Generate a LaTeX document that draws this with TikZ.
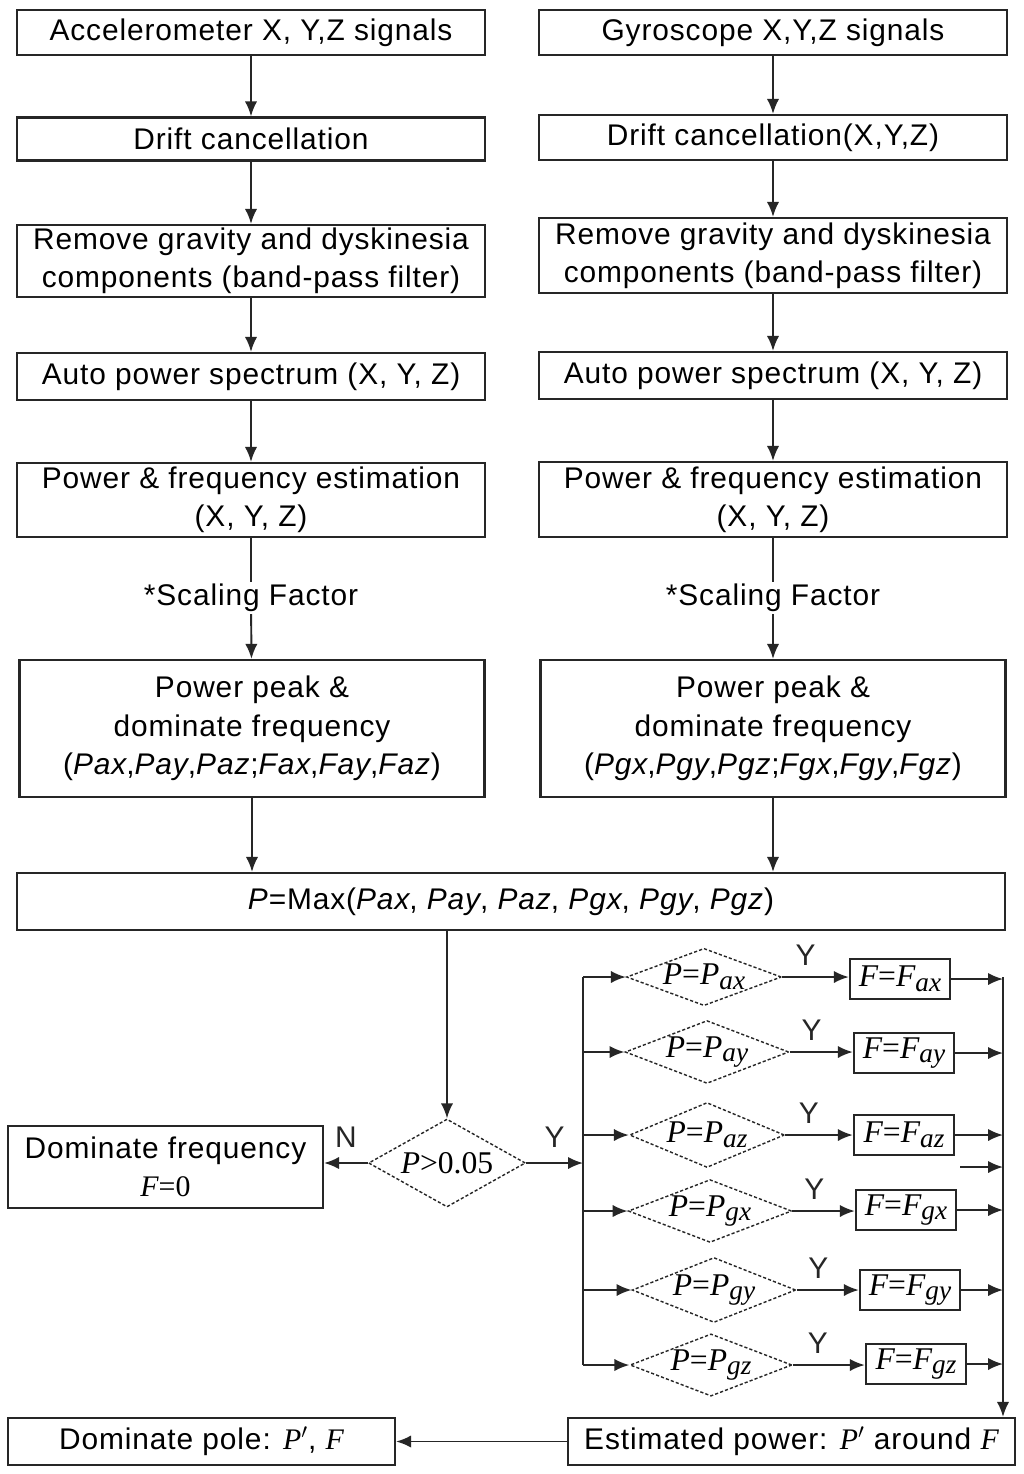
\documentclass[tikz,border=0pt]{standalone}
\usepackage{fontspec}
\setmainfont[LetterSpace=3]{Liberation Sans}
\newfontfamily\tms{Liberation Serif}
\usetikzlibrary{arrows.meta,shapes.geometric}
\newcommand\ti[1]{{\tms\itshape #1}}
\newcommand\tu[1]{{\tms #1}}
\newcommand\tsb[1]{\raisebox{-0.15em}{\tms\itshape\fontsize{15.5}{15.5}\selectfont #1}}
\tikzset{
  blk/.style={draw=black!85, line width=1.3pt, minimum width=9.36cm, align=center, inner sep=0pt, font=\fontsize{17}{21.5}\selectfont},
  dia/.style={diamond, shape aspect=2.6, draw=black!85, dash pattern=on 1.8pt off 1.2pt, line width=0.8pt, minimum width=3.1cm, minimum height=1.24cm, inner sep=0pt, font=\tms\itshape\fontsize{18}{18}\selectfont},
  fbx/.style={draw=black!85, line width=1.4pt, minimum width=2cm, minimum height=0.8cm, inner sep=0pt, font=\tms\itshape\fontsize{18}{18}\selectfont},
  lbl/.style={inner sep=1pt, font=\fontsize{17}{21.5}\selectfont},
  ln/.style={line width=1.1pt, black!85},
  arr/.style={ln, -{Latex[length=8.5pt,width=7pt]}}
}
\begin{document}
\begin{tikzpicture}[x=0.02cm, y=-0.02cm]
\useasboundingbox [fill=white] (0, 0) rectangle (1024, 1474);

\node [blk, minimum height=0.9cm] (acc) at (251, 32.5) {Accelerometer X, Y,Z signals};
\node [blk, minimum height=0.9cm] (gyr) at (773, 32.5) {Gyroscope X,Y,Z signals};
\node [blk, minimum height=0.86cm] (dca) at (251, 139) {Drift cancellation};
\node [blk, minimum height=0.9cm] (dcg) at (773, 137.5) {Drift cancellation(X,Y,Z)};
\node [blk, minimum height=1.44cm] (rma) at (251, 261) {Remove gravity and dyskinesia\\components (band-pass filter)};
\node [blk, minimum height=1.5cm] (rmg) at (773, 255.5) {Remove gravity and dyskinesia\\components (band-pass filter)};
\node [blk, minimum height=0.94cm] (apa) at (251, 376.5) {Auto power spectrum (X, Y, Z)};
\node [blk, minimum height=0.94cm] (apg) at (773, 375.5) {Auto power spectrum (X, Y, Z)};
\node [blk, minimum height=1.48cm] (pfa) at (251, 500) {Power \& frequency estimation\\(X, Y, Z)};
\node [blk, minimum height=1.5cm] (pfg) at (773, 499.5) {Power \& frequency estimation\\(X, Y, Z)};
\node [lbl] (sfa) at (251, 598) {*Scaling Factor};
\node [lbl] (sfg) at (773, 598) {*Scaling Factor};
\node [blk, minimum width=9.3cm, minimum height=2.74cm, font=\fontsize{17}{22}\selectfont] (ppa) at (252, 728.5) {Power peak \&\\dominate frequency\\(\textit{Pax},\textit{Pay},\textit{Paz};\textit{Fax},\textit{Fay},\textit{Faz})};
\node [blk, minimum width=9.3cm, minimum height=2.74cm, font=\fontsize{17}{22}\selectfont] (ppg) at (773, 728.5) {Power peak \&\\dominate frequency\\(\textit{Pgx},\textit{Pgy},\textit{Pgz};\textit{Fgx},\textit{Fgy},\textit{Fgz})};
\node [blk, minimum width=19.76cm, minimum height=1.14cm] (pmax) at (511, 901.5) {\textit{P}=Max(\textit{Pax}, \textit{Pay}, \textit{Paz}, \textit{Pgx}, \textit{Pgy}, \textit{Pgz})};

\node [dia, shape aspect=1.8, minimum width=3.14cm, minimum height=1.76cm] (chk) at (447, 1163) {P\upshape>0.05};
\node [blk, minimum width=6.3cm, minimum height=1.64cm] (fz) at (165.5, 1167) {Dominate frequency\\\ti{F}\tu{=0}};

\node [dia, minimum height=1.1cm] (dax) at (704, 977) {P{\upshape=}P\tsb{ax}};
\node [dia] (day) at (707, 1052) {P{\upshape=}P\tsb{ay}};
\node [dia, minimum height=1.3cm] (daz) at (707, 1135) {P{\upshape=}P\tsb{az}};
\node [dia] (dgx) at (710, 1211) {P{\upshape=}P\tsb{gx}};
\node [dia, minimum height=1.3cm] (dgy) at (714, 1290) {P{\upshape=}P\tsb{gy}};
\node [dia, minimum height=1.2cm] (dgz) at (711, 1365) {P{\upshape=}P\tsb{gz}};

\node [fbx] (fax) at (900, 979) {F{\upshape=}F\tsb{ax}};
\node [fbx] (fay) at (904, 1053) {F{\upshape=}F\tsb{ay}};
\node [fbx] (faz) at (904, 1135) {F{\upshape=}F\tsb{az}};
\node [fbx] (fgx) at (906, 1210) {F{\upshape=}F\tsb{gx}};
\node [fbx] (fgy) at (910, 1290) {F{\upshape=}F\tsb{gy}};
\node [fbx] (fgz) at (916, 1364) {F{\upshape=}F\tsb{gz}};

\node [blk, minimum width=8.94cm, minimum height=0.94cm] (est) at (791.5, 1441.5) {Estimated power: \ti{P}$'$ around \ti{F}};
\node [blk, minimum width=7.74cm, minimum height=0.94cm] (pole) at (201.5, 1441.5) {Dominate pole: \ti{P}$'$, \ti{F}};

\coordinate (blt) at (583, 977);
\coordinate (blb) at (583, 1365);
\coordinate (brt) at (1003, 977);
\coordinate (odd) at (960, 1167);

\draw [arr] (acc) -- (dca);
\draw [arr] (dca) -- (rma);
\draw [arr] (rma) -- (apa);
\draw [arr] (apa) -- (pfa);
\draw [ln] (pfa) -- (sfa);
\draw [arr] (sfa) -- (ppa);
\draw [arr] (gyr) -- (dcg);
\draw [arr] (dcg) -- (rmg);
\draw [arr] (rmg) -- (apg);
\draw [arr] (apg) -- (pfg);
\draw [ln] (pfg) -- (sfg);
\draw [arr] (sfg) -- (ppg);
\draw [arr] (ppa) -- (ppa.south |- pmax.north);
\draw [arr] (ppg) -- (ppg.south |- pmax.north);
\draw [arr] (chk.north |- pmax.south) -- (chk.north);

\draw [arr] (chk.west) -- node [lbl, above=7pt] {N} (chk.west -| fz.east);
\draw [arr] (chk.east) -- node [lbl, above=7pt] {Y} (chk.east -| blt);
\draw [ln] (blt) -- (blb);
\draw [arr] (dax.west -| blt) -- (dax.west);
\draw [arr] (day.west -| blt) -- (day.west);
\draw [arr] (daz.west -| blt) -- (daz.west);
\draw [arr] (dgx.west -| blt) -- (dgx.west);
\draw [arr] (dgy.west -| blt) -- (dgy.west);
\draw [arr] (dgz.west -| blt) -- (dgz.west);

\draw [arr] (dax.east) -- node [lbl, above=5pt, pos=0.35] {Y} (dax.east -| fax.west);
\draw [arr] (day.east) -- node [lbl, above=5pt, pos=0.35] {Y} (day.east -| fay.west);
\draw [arr] (daz.east) -- node [lbl, above=5pt, pos=0.35] {Y} (daz.east -| faz.west);
\draw [arr] (dgx.east) -- node [lbl, above=5pt, pos=0.35] {Y} (dgx.east -| fgx.west);
\draw [arr] (dgy.east) -- node [lbl, above=5pt, pos=0.35] {Y} (dgy.east -| fgy.west);
\draw [arr] (dgz.east) -- node [lbl, above=5pt, pos=0.35] {Y} (dgz.east -| fgz.west);

\draw [arr] (fax.east) -- (fax.east -| brt);
\draw [arr] (fay.east) -- (fay.east -| brt);
\draw [arr] (faz.east) -- (faz.east -| brt);
\draw [arr] (fgx.east) -- (fgx.east -| brt);
\draw [arr] (fgy.east) -- (fgy.east -| brt);
\draw [arr] (fgz.east) -- (fgz.east -| brt);
\draw [arr] (odd) -- (odd -| brt);
\draw [arr] (brt) -- (brt |- est.north);
\draw [arr] (est) -- (pole);
\end{tikzpicture}
\end{document}
